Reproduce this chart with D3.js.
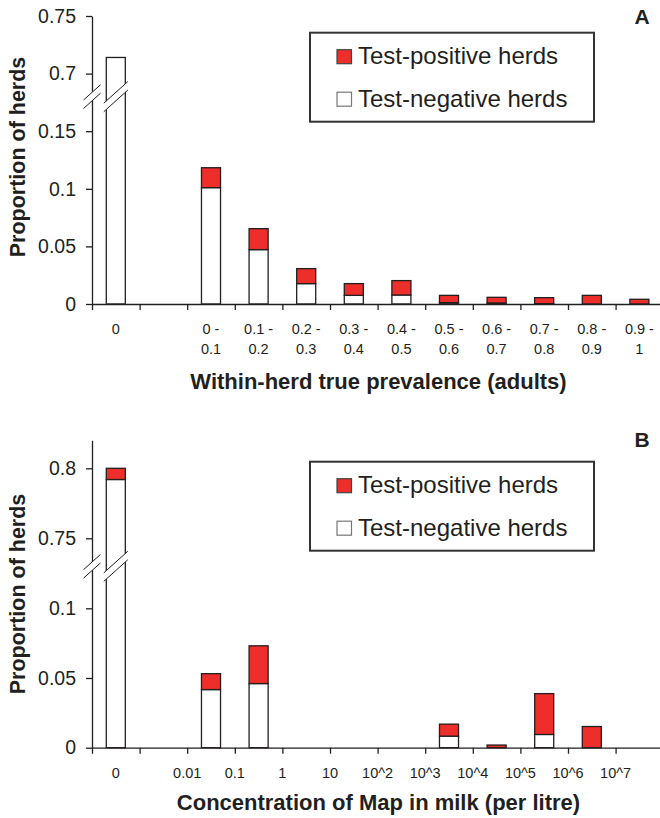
<!DOCTYPE html>
<html><head><meta charset="utf-8">
<script src="https://cdn.jsdelivr.net/npm/d3@7"></script>
<style>
html,body{margin:0;padding:0;background:#fff;}
svg{display:block;font-family:"Liberation Sans",Arial,sans-serif;}
</style></head>
<body><svg id="c" width="660" height="818"></svg>
<script>
// ---- data ----
const slotsA = ["0", "", "0 - 0.1", "0.1 - 0.2", "0.2 - 0.3", "0.3 - 0.4", "0.4 - 0.5", "0.5 - 0.6", "0.6 - 0.7", "0.7 - 0.8", "0.8 - 0.9", "0.9 - 1"];
const negA = [0.714, 0, 0.101, 0.0472, 0.0177, 0.0075, 0.0078, 0.0012, 0.0009, 0.0003, 0, 0];
const posA = [0, 0, 0.0173, 0.0182, 0.013, 0.0102, 0.0125, 0.0063, 0.0049, 0.0052, 0.0075, 0.0041];
const ticksA = [0, 0.05, 0.1, 0.15, 0.7, 0.75];

const slotsB = ["0", "", "0.01-0.1", "0.1-1", "1-10", "10-10^2", "10^2-10^3", "10^3-10^4", "10^4-10^5", "10^5-10^6", "10^6-10^7", ">10^7"];
const negB = [0.792, 0, 0.0417, 0.046, 0, 0, 0, 0.0083, 0, 0.0095, 0, 0];
const posB = [0.008, 0, 0.0114, 0.0271, 0, 0, 0, 0.0086, 0.0019, 0.0293, 0.0152, 0];
const ticksB = [0, 0.05, 0.1, 0.75, 0.8];
const boundaryLabelsB = ["0.01", "0.1", "1", "10", "10^2", "10^3", "10^4", "10^5", "10^6", "10^7"];

const legendLabels = ["Test-positive herds", "Test-negative herds"];
const RED = "#ee2e2b", INK = "#231f20";

const svg = d3.select("#c");
const x0 = 92, x1 = 663.2;

function panel(cfg) {
  const g = svg.append("g");
  const n = cfg.slots.length;
  const xb = d3.scaleLinear().domain([0, n]).range([x0, x1]);
  const y = d3.scaleLinear().domain(cfg.ydom).range(cfg.yrange);
  const step = xb(1) - xb(0);
  const bw = step * 0.4;
  const data = cfg.slots.map((s, i) => ({i, s, neg: cfg.neg[i], pos: cfg.pos[i]}));

  // bars: negative (white) then positive (red) stacked
  g.selectAll("rect.neg").data(data.filter(d => d.neg > 0)).join("rect")
    .attr("x", d => xb(d.i + 0.5) - bw / 2).attr("width", bw)
    .attr("y", d => y(d.neg)).attr("height", d => y(0) - y(d.neg))
    .attr("fill", "#fff").attr("stroke", INK).attr("stroke-width", 1.3);
  g.selectAll("rect.pos").data(data.filter(d => d.pos > 0)).join("rect")
    .attr("x", d => xb(d.i + 0.5) - bw / 2).attr("width", bw)
    .attr("y", d => y(d.neg + d.pos)).attr("height", d => y(d.neg) - y(d.neg + d.pos))
    .attr("fill", RED).attr("stroke", INK).attr("stroke-width", 1.3);

  // y axis
  const ya = g.append("g").attr("transform", `translate(${x0},0)`)
    .call(d3.axisLeft(y).tickValues(cfg.ticks).tickSizeInner(6).tickSizeOuter(0).tickPadding(10)
      .tickFormat(d => String(d)));
  ya.select(".domain").attr("stroke", INK).attr("stroke-width", 1.3);
  ya.selectAll(".tick line").attr("stroke", INK).attr("stroke-width", 1.3);
  ya.selectAll(".tick text").attr("font-size", 19.5).attr("fill", INK)
    .attr("font-family", "Liberation Sans, Arial, sans-serif");

  // x axis
  const xa = g.append("g").attr("transform", `translate(0,${y(0)})`)
    .call(d3.axisBottom(xb).tickValues(d3.range(0, n + 1)).tickSizeInner(6).tickSizeOuter(0).tickFormat(""));
  xa.select(".domain").attr("stroke", INK).attr("stroke-width", 1.3);
  xa.selectAll(".tick line").attr("stroke", INK).attr("stroke-width", 1.3);

  // axis break marks
  const cyBreak = y(cfg.breakLo) - (y(cfg.breakLo) - y(cfg.breakHi)) * 0.6;
  const brk = (cx, hw, gap) => {
    const s = 0.9;
    const pts = [[cx - hw, cyBreak + hw * s - gap / 2], [cx + hw, cyBreak - hw * s - gap / 2],
                 [cx + hw, cyBreak - hw * s + gap / 2], [cx - hw, cyBreak + hw * s + gap / 2]];
    g.append("polygon").attr("points", pts.map(p => p.join(",")).join(" ")).attr("fill", "#fff");
    g.append("line").attr("x1", pts[0][0]).attr("y1", pts[0][1]).attr("x2", pts[1][0]).attr("y2", pts[1][1])
      .attr("stroke", INK).attr("stroke-width", 1);
    g.append("line").attr("x1", pts[3][0]).attr("y1", pts[3][1]).attr("x2", pts[2][0]).attr("y2", pts[2][1])
      .attr("stroke", INK).attr("stroke-width", 1);
  };
  brk(x0, 8.5, 8.5);
  brk(xb(0.5), 12, 8.5);

  // x labels
  cfg.xlabels(g, xb, y(0));

  // axis titles
  g.append("text").attr("x", (x0 + 663) / 2 + 1).attr("y", cfg.xtitleY).attr("text-anchor", "middle")
    .attr("font-size", 22).attr("font-weight", "bold").attr("fill", INK).text(cfg.xtitle);
  g.append("text").attr("transform", `translate(25,${cfg.ytitleY}) rotate(-90)`).attr("text-anchor", "middle")
    .attr("font-size", 21.5).attr("font-weight", "bold").attr("fill", INK).text("Proportion of herds");

  // panel letter
  g.append("text").attr("x", 642).attr("y", cfg.letterY).attr("text-anchor", "middle")
    .attr("font-size", 21).attr("font-weight", "bold").attr("fill", INK).text(cfg.letter);

  // legend
  const lg = g.append("g");
  lg.append("rect").attr("x", 310).attr("y", cfg.legY).attr("width", 284).attr("height", 89)
    .attr("fill", "#fff").attr("stroke", "#333").attr("stroke-width", 2);
  legendLabels.forEach((t, i) => {
    const by = cfg.legY + 31.5 + i * 42.5;
    lg.append("rect").attr("x", 337).attr("y", by - 14.5).attr("width", 14.5).attr("height", 14)
      .attr("fill", i === 0 ? RED : "#fff").attr("stroke", i === 0 ? "#444" : "#777").attr("stroke-width", 1.2);
    lg.append("text").attr("x", 358).attr("y", by).attr("font-size", 24).attr("fill", INK).text(t);
  });
}

panel({
  slots: slotsA, neg: negA, pos: posA, ticks: ticksA,
  ydom: [0, 0.15, 0.7, 0.75], yrange: [304, 131.2, 73.6, 16],
  breakLo: 0.15, breakHi: 0.7,
  xtitle: "Within-herd true prevalence (adults)", xtitleY: 389, ytitleY: 157,
  letter: "A", letterY: 24, legY: 32.7,
  xlabels: (g, xb, y0) => {
    slotsA.forEach((s, i) => {
      if (!s) return;
      const parts = s.split(" - ");
      const t = g.append("text").attr("x", xb(i + 0.5)).attr("y", y0 + 30).attr("text-anchor", "middle")
        .attr("font-size", 14.5).attr("fill", INK);
      if (parts.length === 1) { t.text(parts[0]); }
      else {
        t.append("tspan").attr("x", xb(i + 0.5)).text(parts[0] + " -");
        t.append("tspan").attr("x", xb(i + 0.5)).attr("dy", 20).text(parts[1]);
      }
    });
  }
});

panel({
  slots: slotsB, neg: negB, pos: posB, ticks: ticksB,
  ydom: [0, 0.1, 0.75, 0.82], yrange: [747.7, 608.3, 538.3, 440.3],
  breakLo: 0.1, breakHi: 0.75,
  xtitle: "Concentration of Map in milk (per litre)", xtitleY: 810, ytitleY: 594,
  letter: "B", letterY: 447, legY: 461.7,
  xlabels: (g, xb, y0) => {
    g.append("text").attr("x", xb(0.5)).attr("y", y0 + 30).attr("text-anchor", "middle")
      .attr("font-size", 14.5).attr("fill", INK).text(slotsB[0]);
    boundaryLabelsB.forEach((s, k) => {
      g.append("text").attr("x", xb(k + 2)).attr("y", y0 + 30).attr("text-anchor", "middle")
        .attr("font-size", 14.5).attr("fill", INK).text(s);
    });
  }
});
</script></body></html>
